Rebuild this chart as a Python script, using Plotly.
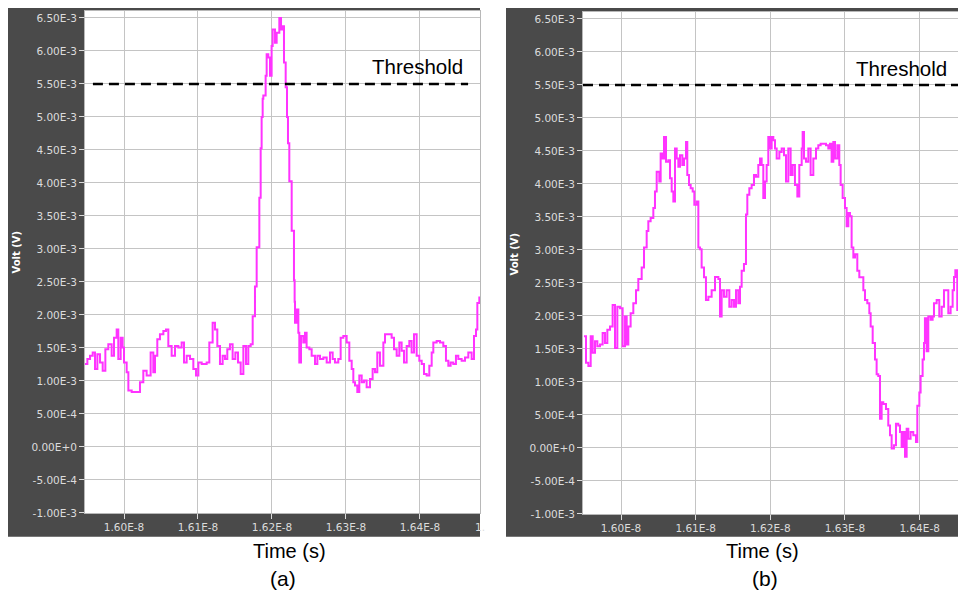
import plotly.graph_objects as go

# ---------------- data (time in ns, voltage in mV) ----------------
time_a = [15.9473, 15.9505, 15.9541, 15.9577, 15.9608, 15.9640, 15.9676, 15.9712, 15.9748, 15.9788,
          15.9833, 15.9865, 15.9901, 15.9923, 15.9955, 15.9982, 16.0000, 16.0036, 16.0059, 16.0104,
          16.0171, 16.0216, 16.0261, 16.0306, 16.0360, 16.0396, 16.0419, 16.0450, 16.0486, 16.0532,
          16.0568, 16.0599, 16.0644, 16.0689, 16.0734, 16.0779, 16.0811, 16.0847, 16.0892, 16.0937,
          16.0973, 16.1005, 16.1050, 16.1117, 16.1153, 16.1198, 16.1230, 16.1261, 16.1297, 16.1333,
          16.1365, 16.1396, 16.1432, 16.1468, 16.1505, 16.1541, 16.1577, 16.1613, 16.1649, 16.1680,
          16.1712, 16.1739, 16.1770, 16.1793, 16.1829, 16.1847, 16.1860, 16.1874, 16.1883, 16.1914,
          16.1928, 16.1950, 16.1973, 16.1995, 16.2009, 16.2041, 16.2063, 16.2099, 16.2122, 16.2144,
          16.2162, 16.2185, 16.2203, 16.2216, 16.2234, 16.2266, 16.2297, 16.2306, 16.2311, 16.2333,
          16.2356, 16.2369, 16.2392, 16.2423, 16.2446, 16.2468, 16.2505, 16.2536, 16.2581, 16.2613,
          16.2649, 16.2694, 16.2739, 16.2784, 16.2820, 16.2851, 16.2896, 16.2928, 16.2964, 16.3009,
          16.3045, 16.3077, 16.3099, 16.3122, 16.3153, 16.3180, 16.3212, 16.3243, 16.3279, 16.3324,
          16.3360, 16.3392, 16.3423, 16.3459, 16.3505, 16.3527, 16.3572, 16.3617, 16.3649, 16.3685,
          16.3721, 16.3752, 16.3784, 16.3820, 16.3856, 16.3887, 16.3919, 16.3955, 16.3991, 16.4023,
          16.4054, 16.4090, 16.4126, 16.4158, 16.4180, 16.4225, 16.4270, 16.4315, 16.4351, 16.4383,
          16.4414, 16.4450, 16.4486, 16.4518, 16.4563, 16.4608, 16.4653, 16.4698, 16.4730, 16.4757,
          16.4775, 16.4802]
volt_a = [1.255, 1.33, 1.38, 1.43, 1.18, 1.405, 1.28, 1.155, 1.48, 1.555,
          1.38, 1.655, 1.78, 1.33, 1.655, 1.505, 1.28, 1.13, 0.855, 0.83,
          0.83, 0.98, 1.155, 1.08, 1.43, 1.13, 1.38, 1.63, 1.705, 1.755,
          1.78, 1.53, 1.38, 1.53, 1.505, 1.58, 1.28, 1.38, 1.33, 1.18,
          1.08, 1.28, 1.255, 1.28, 1.58, 1.88, 1.78, 1.53, 1.255, 1.38,
          1.33, 1.48, 1.555, 1.33, 1.43, 1.28, 1.105, 1.53, 1.255, 1.53,
          1.555, 1.98, 2.43, 3.025, 3.775, 4.525, 5.0, 5.275, 5.325, 5.625,
          5.95, 5.9, 5.625, 6.075, 6.325, 6.125, 6.275, 6.5, 6.325, 6.375,
          5.825, 5.45, 5.0, 4.6, 4.025, 3.275, 2.525, 2.2, 1.88, 2.08,
          1.73, 1.28, 1.68, 1.58, 1.73, 1.505, 1.48, 1.38, 1.255, 1.38,
          1.33, 1.355, 1.28, 1.43, 1.33, 1.28, 1.33, 1.655, 1.68, 1.58,
          1.305, 1.18, 0.98, 0.93, 0.83, 1.08, 0.98, 1.005, 0.905, 1.03,
          1.18, 1.13, 1.43, 1.23, 1.58, 1.705, 1.705, 1.655, 1.48, 1.38,
          1.58, 1.455, 1.28, 1.53, 1.605, 1.43, 1.705, 1.38, 1.305, 1.255,
          1.105, 1.08, 1.23, 1.43, 1.58, 1.605, 1.58, 1.53, 1.305, 1.23,
          1.28, 1.255, 1.38, 1.33, 1.305, 1.355, 1.43, 1.33, 1.68, 1.78,
          2.18, 2.28]

time_b = [15.9504, 15.9531, 15.9563, 15.9594, 15.9621, 15.9652, 15.9683, 15.9719, 15.9754, 15.9786,
          15.9817, 15.9853, 15.9888, 15.9920, 15.9951, 15.9987, 16.0022, 16.0054, 16.0076, 16.0098,
          16.0129, 16.0165, 16.0201, 16.0232, 16.0277, 16.0308, 16.0344, 16.0366, 16.0397, 16.0433,
          16.0455, 16.0478, 16.0513, 16.0531, 16.0558, 16.0576, 16.0603, 16.0634, 16.0656, 16.0679,
          16.0701, 16.0723, 16.0746, 16.0768, 16.0790, 16.0821, 16.0844, 16.0871, 16.0888, 16.0911,
          16.0933, 16.0960, 16.0982, 16.1013, 16.1036, 16.1058, 16.1080, 16.1112, 16.1138, 16.1170,
          16.1214, 16.1259, 16.1304, 16.1326, 16.1348, 16.1379, 16.1415, 16.1451, 16.1482, 16.1513,
          16.1540, 16.1571, 16.1594, 16.1616, 16.1647, 16.1674, 16.1692, 16.1719, 16.1750, 16.1781,
          16.1808, 16.1839, 16.1862, 16.1884, 16.1906, 16.1929, 16.1951, 16.1973, 16.1996, 16.2018,
          16.2040, 16.2063, 16.2085, 16.2121, 16.2152, 16.2183, 16.2210, 16.2241, 16.2272, 16.2299,
          16.2330, 16.2362, 16.2388, 16.2420, 16.2433, 16.2451, 16.2478, 16.2509, 16.2540, 16.2576,
          16.2612, 16.2643, 16.2674, 16.2710, 16.2746, 16.2777, 16.2799, 16.2821, 16.2844, 16.2866,
          16.2897, 16.2924, 16.2942, 16.2969, 16.3000, 16.3022, 16.3045, 16.3067, 16.3089, 16.3112,
          16.3134, 16.3165, 16.3192, 16.3223, 16.3246, 16.3268, 16.3299, 16.3326, 16.3344, 16.3371,
          16.3402, 16.3424, 16.3446, 16.3469, 16.3491, 16.3513, 16.3549, 16.3580, 16.3603, 16.3625,
          16.3656, 16.3683, 16.3714, 16.3737, 16.3759, 16.3781, 16.3804, 16.3826, 16.3848, 16.3879,
          16.3915, 16.3951, 16.3969, 16.3996, 16.4013, 16.4040, 16.4058, 16.4071, 16.4094, 16.4116,
          16.4147, 16.4174, 16.4192, 16.4228, 16.4263, 16.4295, 16.4326, 16.4362, 16.4384, 16.4415,
          16.4442, 16.4460, 16.4478, 16.4504, 16.4531, 16.4563, 16.4607]
volt_b = [1.69, 1.29, 1.24, 1.69, 1.44, 1.615, 1.54, 1.565, 1.74, 1.59,
          1.79, 1.84, 2.165, 1.515, 2.14, 2.115, 1.54, 1.99, 1.565, 1.84,
          2.04, 2.19, 2.39, 2.56, 2.735, 3.035, 3.285, 3.435, 3.485, 3.635,
          3.885, 4.185, 4.035, 4.46, 4.385, 4.71, 4.335, 4.36, 4.085, 3.885,
          3.735, 4.535, 4.385, 4.26, 4.435, 4.285, 4.385, 4.635, 4.135, 3.985,
          3.935, 3.885, 3.685, 3.735, 3.035, 3.01, 2.735, 2.585, 2.24, 2.29,
          2.39, 2.59, 2.56, 1.99, 2.39, 2.29, 2.39, 2.14, 2.24, 2.14,
          2.39, 2.19, 2.44, 2.685, 2.785, 3.535, 3.835, 3.935, 3.985, 4.135,
          4.11, 4.285, 4.385, 4.285, 3.785, 4.035, 4.285, 4.71, 4.535, 4.71,
          4.66, 4.535, 4.385, 4.485, 4.535, 4.435, 4.035, 4.535, 4.135, 4.285,
          3.985, 3.81, 4.285, 4.535, 4.785, 4.385, 4.335, 4.535, 4.135, 4.385,
          4.535, 4.585, 4.61, 4.61, 4.585, 4.535, 4.61, 4.335, 4.635, 4.385,
          4.585, 4.285, 3.985, 3.785, 3.635, 3.36, 3.56, 3.51, 3.035, 2.885,
          2.935, 2.685, 2.585, 2.585, 2.39, 2.24, 2.19, 2.04, 1.84, 1.59,
          1.34, 1.115, 1.09, 0.44, 0.69, 0.665, 0.59, 0.34, 0.19, -0.01,
          0.04, 0.365, 0.34, 0.24, 0.015, 0.24, -0.135, 0.29, 0.14, 0.24,
          0.19, 0.09, 0.64, 0.84, 1.09, 1.34, 1.59, 1.965, 1.465, 1.99,
          1.94, 1.99, 2.19, 2.24, 1.99, 2.14, 2.39, 2.39, 2.04, 2.14,
          2.39, 2.59, 2.69, 2.09, 1.89, 2.19, 2.04]

threshold_mv = 5.5

y_tickvals = [-1.0, -0.5, 0.0, 0.5, 1.0, 1.5, 2.0, 2.5, 3.0, 3.5, 4.0, 4.5, 5.0, 5.5, 6.0, 6.5]
y_ticktext = ["-1.00E-3", "-5.00E-4", "0.00E+0", "5.00E-4", "1.00E-3", "1.50E-3", "2.00E-3",
              "2.50E-3", "3.00E-3", "3.50E-3", "4.00E-3", "4.50E-3", "5.00E-3", "5.50E-3",
              "6.00E-3", "6.50E-3"]
x_tickvals = [16.0, 16.1, 16.2, 16.3, 16.4]
x_ticktext = ["1.60E-8", "1.61E-8", "1.62E-8", "1.63E-8", "1.64E-8"]

# ---------------- layout helpers ----------------
# The page places the figure 8 px right of and below the window's top-left corner
# (default body margin), so screen positions are converted back by that offset.
W, H = 966, 599
OFF = 8
def px(x):
    return (x - OFF) / W
def py(y):
    return 1 - (y - OFF) / H

DARK = "#4a4a4a"
MAGENTA = "#ff33ff"
GRID = "#c4c4c4"
TICKFONT = dict(family="DejaVu Sans", size=10.5, color="#dcdcdc")
TXT = "Liberation Sans, Arial"

fig = go.Figure()

fig.add_trace(go.Scatter(x=time_a, y=volt_a, mode="lines", xaxis="x", yaxis="y",
                         line=dict(color=MAGENTA, width=2, shape="hv"), showlegend=False))
fig.add_trace(go.Scatter(x=[15.958, 16.465], y=[threshold_mv, threshold_mv], mode="lines",
                         xaxis="x", yaxis="y",
                         line=dict(color="black", width=2.5, dash="10px,6px"), showlegend=False))
fig.add_trace(go.Scatter(x=time_b, y=volt_b, mode="lines", xaxis="x2", yaxis="y2",
                         line=dict(color=MAGENTA, width=2, shape="hv"), showlegend=False))
fig.add_trace(go.Scatter(x=[15.9491, 16.458], y=[threshold_mv, threshold_mv], mode="lines",
                         xaxis="x2", yaxis="y2",
                         line=dict(color="black", width=2.5, dash="10px,6px"), showlegend=False))

def xaxis_cfg(domain, rng, anchor):
    return dict(domain=domain, range=rng, anchor=anchor, tickmode="array",
                tickvals=x_tickvals, ticktext=x_ticktext, tickfont=TICKFONT,
                ticks="outside", ticklen=5, tickcolor="#dcdcdc", tickwidth=1,
                showgrid=True, gridcolor=GRID, gridwidth=1, zeroline=False,
                showline=True, linecolor="#b8b8b8", linewidth=1, mirror=True,
                fixedrange=True)

def yaxis_cfg(domain, anchor):
    return dict(domain=domain, range=[-1.0, 6.59], anchor=anchor, tickmode="array",
                tickvals=y_tickvals, ticktext=y_ticktext, tickfont=TICKFONT,
                ticks="outside", ticklen=5, tickcolor="#dcdcdc", tickwidth=1,
                showgrid=True, gridcolor=GRID, gridwidth=1, zeroline=False,
                showline=True, linecolor="#b8b8b8", linewidth=1, mirror=True,
                fixedrange=True)

left_dom_x = [px(85), px(480)]
left_dom_y = [py(518), py(11)]
right_dom_x = [px(583), px(966)]
right_dom_y = [py(519), py(12)]

shapes = [
    dict(type="rect", xref="paper", yref="paper", x0=px(8), x1=px(480), y0=py(542), y1=1.0,
         fillcolor=DARK, line=dict(width=0), layer="below"),
    dict(type="rect", xref="paper", yref="paper", x0=px(506), x1=1.0, y0=py(542), y1=1.0,
         fillcolor=DARK, line=dict(width=0), layer="below"),
    dict(type="rect", xref="paper", yref="paper", x0=left_dom_x[0], x1=left_dom_x[1],
         y0=left_dom_y[0], y1=left_dom_y[1], fillcolor="white", line=dict(width=0), layer="below"),
    dict(type="rect", xref="paper", yref="paper", x0=right_dom_x[0], x1=right_dom_x[1],
         y0=right_dom_y[0], y1=right_dom_y[1], fillcolor="white", line=dict(width=0), layer="below"),
]

def ann(text, x, y, size, color="black", family=TXT, angle=0, xanchor="center"):
    return dict(text=text, x=x, y=y, xref="paper", yref="paper", showarrow=False,
                xanchor=xanchor, yanchor="middle", textangle=angle,
                font=dict(family=family, size=size, color=color))

annotations = [
    dict(text="Threshold", x=16.397, y=5.76, xref="x", yref="y", showarrow=False,
         xanchor="center", yanchor="middle", font=dict(family=TXT, size=20.5, color="black")),
    dict(text="Threshold", x=16.3757, y=5.745, xref="x2", yref="y2", showarrow=False,
         xanchor="center", yanchor="middle", font=dict(family=TXT, size=20.5, color="black")),
    ann("<b>Volt (V)</b>", px(17), py(255), 10, color="white", family="DejaVu Sans", angle=-90),
    ann("<b>Volt (V)</b>", px(515), py(257), 10, color="white", family="DejaVu Sans", angle=-90),
    ann("Time (s)", px(289), py(556), 20),
    ann("Time (s)", px(762), py(556), 20),
    ann("(a)", px(283), py(584), 21),
    ann("(b)", px(765), py(584), 21),
    dict(text="1.", x=px(473), y=py(532), xref="paper", yref="paper", showarrow=False,
         xanchor="left", yanchor="middle", font=TICKFONT),
]

fig.update_layout(
    width=W, height=H,
    margin=dict(l=0, r=0, t=0, b=0),
    paper_bgcolor="white",
    plot_bgcolor="rgba(0,0,0,0)",
    xaxis=xaxis_cfg(left_dom_x, [15.9473, 16.4811], "y"),
    yaxis=dict(yaxis_cfg(left_dom_y, "x"), range=[-1.0, 6.605]),
    xaxis2=xaxis_cfg(right_dom_x, [15.9491, 16.4621], "y2"),
    yaxis2=dict(yaxis_cfg(right_dom_y, "x2"), range=[-1.0, 6.605]),
    shapes=shapes,
    annotations=annotations,
    showlegend=False,
)

fig.write_html("out.html", config={"displayModeBar": False})
